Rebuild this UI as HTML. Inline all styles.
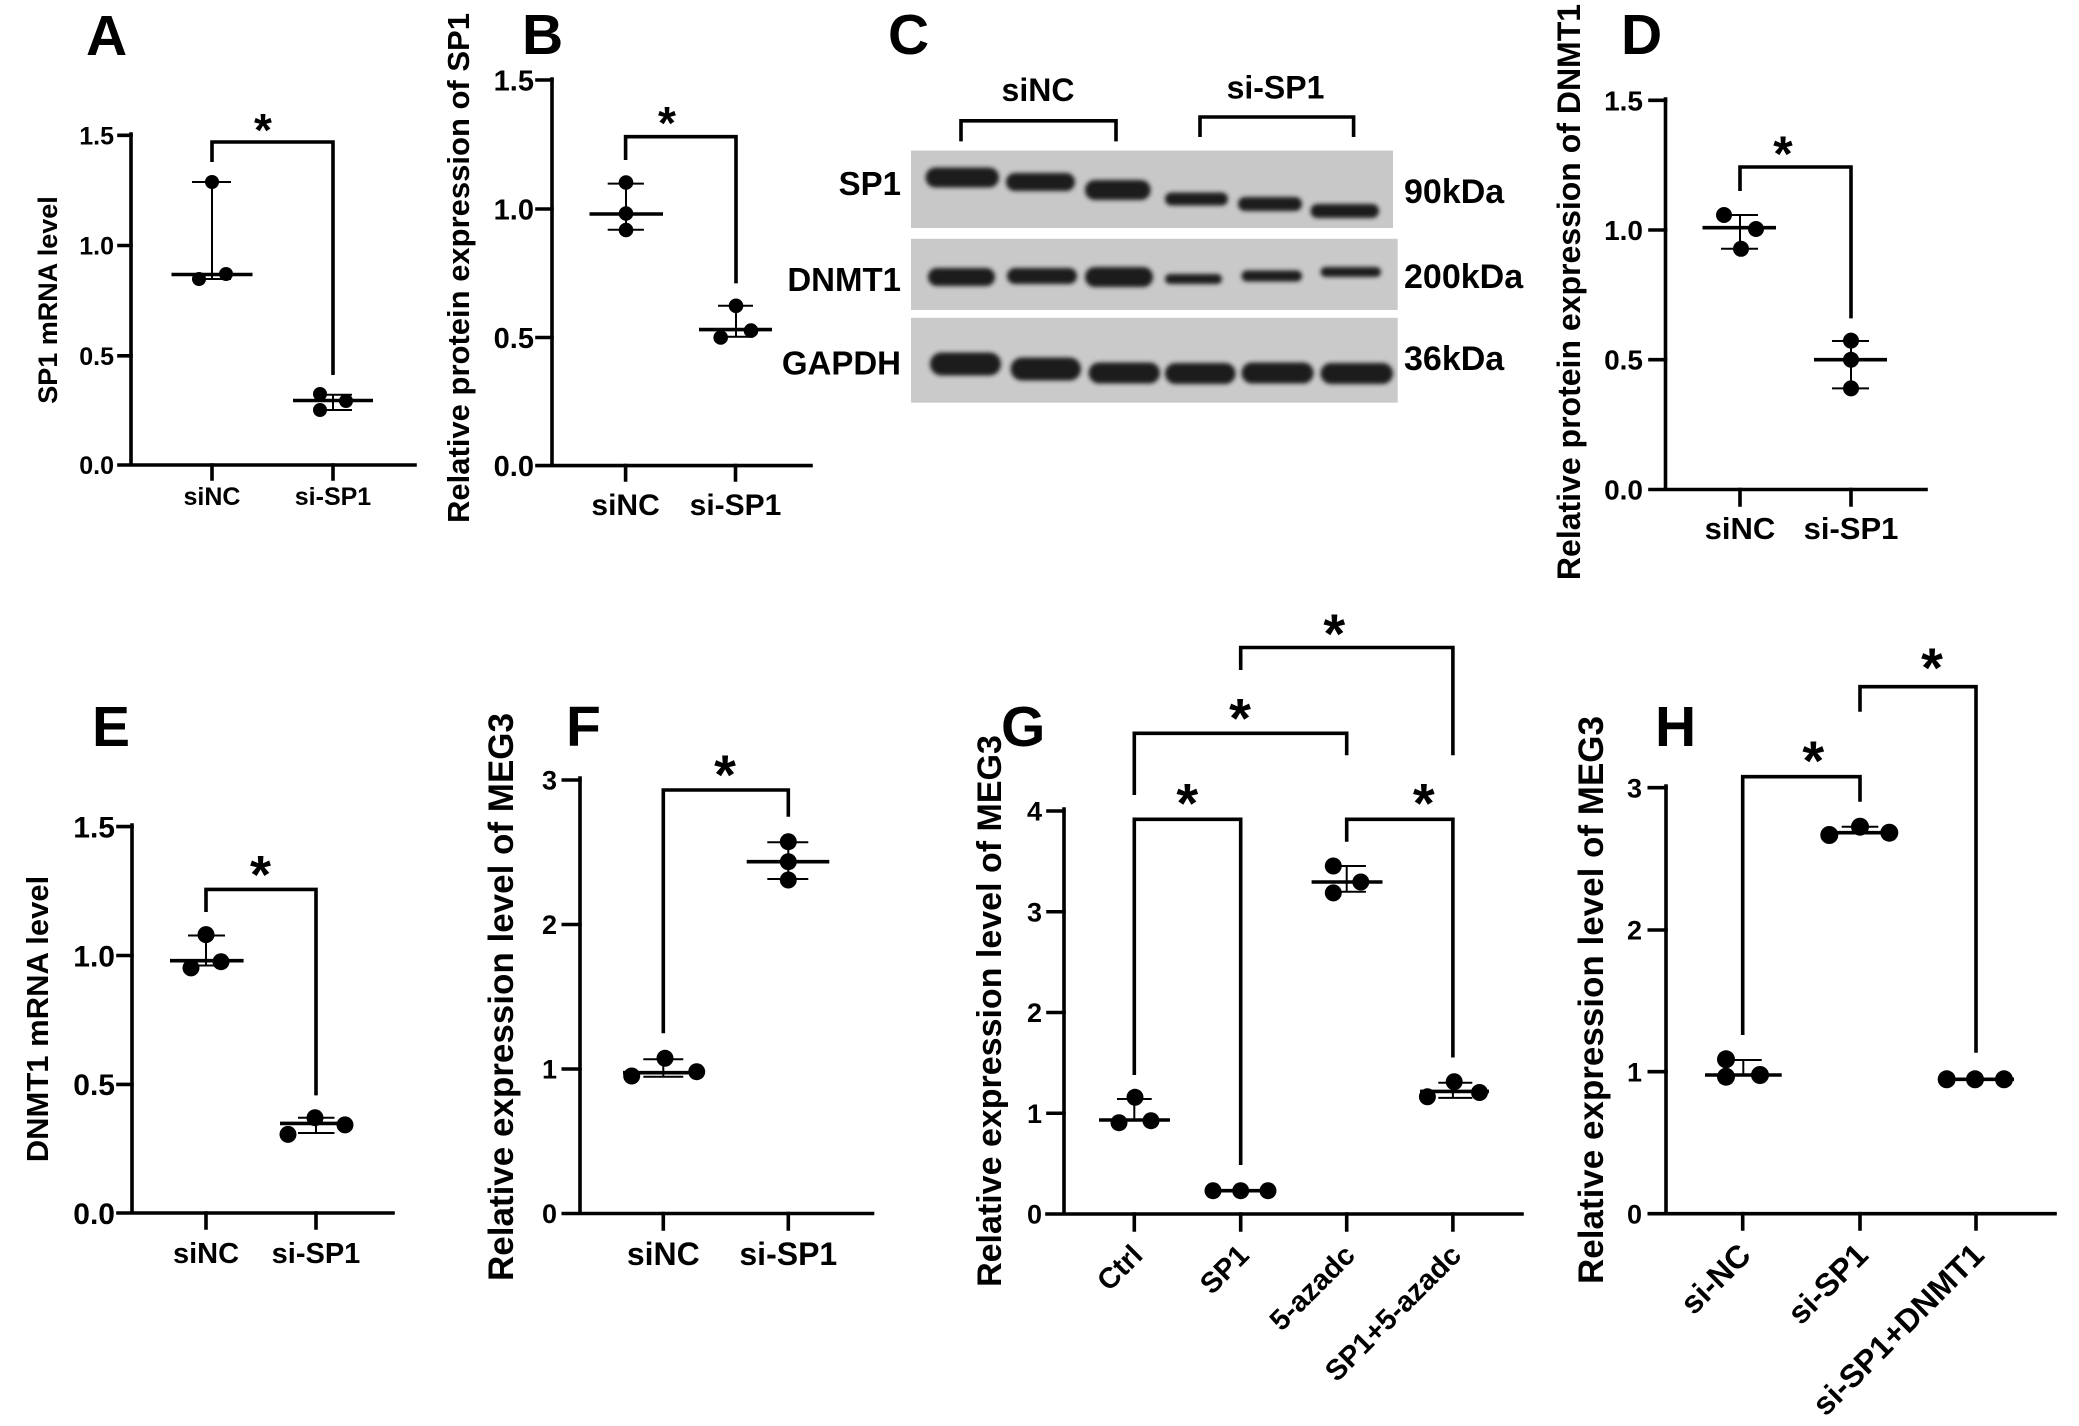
<!DOCTYPE html>
<html><head><meta charset="utf-8"><style>
html,body{margin:0;padding:0;background:#fff;}
svg{display:block;}
text{font-family:"Liberation Sans",Arial,sans-serif;font-weight:bold;fill:#000;}
.ax{stroke:#000;stroke-width:3.6;fill:none;stroke-linecap:square;}
.br{stroke:#000;stroke-width:3.6;fill:none;}
.md{stroke:#000;stroke-width:3.6;}
.eb{stroke:#000;stroke-width:2;}
</style></head><body>
<svg width="2079" height="1426" viewBox="0 0 2079 1426" xmlns="http://www.w3.org/2000/svg">
<defs><filter id="bl" x="-20%" y="-60%" width="140%" height="220%"><feGaussianBlur stdDeviation="2.2"/></filter></defs>
<rect width="2079" height="1426" fill="#fff"/>

<!-- Panel letters -->
<g font-size="57">
<text x="86" y="55">A</text>
<text x="522" y="54">B</text>
<text x="888" y="54">C</text>
<text x="1621" y="54">D</text>
<text x="92" y="746">E</text>
<text x="566" y="746">F</text>
<text x="1001" y="746">G</text>
<text x="1655" y="746">H</text>
</g>

<!-- ===== A ===== -->
<g>
<path class="ax" d="M131,134 V465 M119,465 H415"/>
<path class="ax" d="M119,135.3 H131 M119,245.5 H131 M119,355.8 H131 M212,465 V479 M333,465 V479"/>
<g font-size="25" text-anchor="end">
<text x="114" y="144.3">1.5</text><text x="114" y="254.5">1.0</text><text x="114" y="364.8">0.5</text><text x="114" y="474">0.0</text>
</g>
<g font-size="25" text-anchor="middle"><text x="212" y="505">siNC</text><text x="333" y="505">si-SP1</text></g>
<text font-size="27" text-anchor="middle" transform="rotate(-90 57 300)" x="57" y="300">SP1 mRNA level</text>
<path class="br" d="M212,162 V142 H333 V375"/>
<text font-size="46" text-anchor="middle" x="263" y="146">*</text>
<line class="eb" x1="212" y1="182" x2="212" y2="279"/>
<line class="eb" x1="192" y1="182" x2="231" y2="182"/><line class="eb" x1="192" y1="279" x2="231" y2="279"/>
<line class="md" x1="171.5" y1="274.5" x2="252.5" y2="274.5"/>
<circle cx="212" cy="182" r="7"/><circle cx="199" cy="279" r="7"/><circle cx="226" cy="274" r="7"/>
<line class="eb" x1="333" y1="394.7" x2="333" y2="410"/>
<line class="eb" x1="314" y1="394.7" x2="352" y2="394.7"/><line class="eb" x1="314" y1="410" x2="352" y2="410"/>
<line class="md" x1="293" y1="400.5" x2="373" y2="400.5"/>
<circle cx="320" cy="394" r="7"/><circle cx="320" cy="410" r="7"/><circle cx="346" cy="401" r="7"/>
</g>

<!-- ===== B ===== -->
<g>
<path class="ax" d="M552,79 V465.6 M537,465.6 H811"/>
<path class="ax" d="M537,80 H552 M537,209 H552 M537,337.5 H552 M625.6,465.6 V480 M735.5,465.6 V480"/>
<g font-size="29" text-anchor="end">
<text x="534" y="90.5">1.5</text><text x="534" y="219.5">1.0</text><text x="534" y="348">0.5</text><text x="534" y="476">0.0</text>
</g>
<g font-size="30" text-anchor="middle"><text x="625.6" y="515">siNC</text><text x="735.5" y="515">si-SP1</text></g>
<text font-size="31" text-anchor="middle" transform="rotate(-90 469 268)" x="469" y="268">Relative protein expression of SP1</text>
<path class="br" d="M625.6,160 V136.7 H736 V283.4"/>
<text font-size="46" text-anchor="middle" x="667" y="139">*</text>
<line class="eb" x1="626" y1="183.6" x2="626" y2="229.7"/>
<line class="eb" x1="607.7" y1="183.6" x2="643.9" y2="183.6"/><line class="eb" x1="607.7" y1="229.7" x2="643.9" y2="229.7"/>
<line class="md" x1="589.5" y1="214" x2="663" y2="214"/>
<circle cx="626" cy="182.5" r="7.3"/><circle cx="626" cy="213.5" r="7.3"/><circle cx="626" cy="230" r="7.3"/>
<line class="eb" x1="736" y1="305.8" x2="736" y2="336.8"/>
<line class="eb" x1="718" y1="305.8" x2="753" y2="305.8"/><line class="eb" x1="718" y1="336.8" x2="753" y2="336.8"/>
<line class="md" x1="699" y1="329.6" x2="772" y2="329.6"/>
<circle cx="736" cy="305.8" r="7.3"/><circle cx="720.7" cy="337.5" r="7.3"/><circle cx="751" cy="330.6" r="7.3"/>
</g>

<!-- ===== C (western blot) ===== -->
<g>
<g font-size="32" text-anchor="middle"><text x="1038" y="101">siNC</text><text x="1275.5" y="98.5">si-SP1</text></g>
<path class="br" stroke-width="4" d="M961,141.4 V120.8 H1116 V141.4"/>
<path class="br" stroke-width="4" d="M1200,137 V117 H1353.6 V137"/>
<rect x="911" y="150.6" width="482" height="77.4" fill="#c8c8c8"/>
<rect x="911" y="238.8" width="486.7" height="71.2" fill="#c9c9c9"/>
<rect x="911" y="317.8" width="486.7" height="84.9" fill="#cacaca"/>
<g fill="#1c1c1c" filter="url(#bl)">
<rect x="925.6" y="167.5" width="73.4" height="20" rx="10"/>
<rect x="1006" y="173" width="69" height="18" rx="9"/>
<rect x="1085" y="180" width="65.6" height="20" rx="10"/>
<rect x="1165" y="192.5" width="63" height="13" rx="6.5"/>
<rect x="1238" y="197" width="64" height="14" rx="7"/>
<rect x="1310.5" y="204" width="68.5" height="14" rx="7"/>
<rect x="928" y="268" width="67" height="18" rx="9"/>
<rect x="1007" y="268" width="70" height="16" rx="8"/>
<rect x="1085" y="267" width="68" height="20" rx="10"/>
<rect x="1165" y="274" width="57" height="10" rx="5"/>
<rect x="1241.5" y="270.5" width="60.5" height="11" rx="5.5"/>
<rect x="1320.5" y="267" width="60.5" height="10" rx="5"/>
<rect x="930" y="352.5" width="71" height="23" rx="11.5"/>
<rect x="1010.6" y="357.5" width="70.4" height="23" rx="11.5"/>
<rect x="1088.6" y="362.5" width="71.4" height="21" rx="10.5"/>
<rect x="1165" y="363" width="70.6" height="21" rx="10.5"/>
<rect x="1241.5" y="362.5" width="72.1" height="21" rx="10.5"/>
<rect x="1320.5" y="363" width="72.5" height="21" rx="10.5"/>
</g>
<g font-size="33" text-anchor="end"><text x="901" y="195">SP1</text><text x="901" y="291">DNMT1</text><text x="901" y="374.5">GAPDH</text></g>
<g font-size="34"><text x="1404" y="203">90kDa</text><text x="1404" y="288">200kDa</text><text x="1404" y="370">36kDa</text></g>
</g>

<!-- ===== D ===== -->
<g>
<path class="ax" d="M1665.5,99 V489.5 M1650,489.5 H1926"/>
<path class="ax" d="M1650,100.3 H1665.5 M1650,230 H1665.5 M1650,359.7 H1665.5 M1740,489.5 V505 M1851,489.5 V505"/>
<g font-size="28" text-anchor="end">
<text x="1643" y="110.3">1.5</text><text x="1643" y="240">1.0</text><text x="1643" y="369.7">0.5</text><text x="1643" y="499.5">0.0</text>
</g>
<g font-size="31" text-anchor="middle"><text x="1740" y="539">siNC</text><text x="1851" y="539">si-SP1</text></g>
<text font-size="32" text-anchor="middle" transform="rotate(-90 1580 292)" x="1580" y="292">Relative protein expression of DNMT1</text>
<path class="br" d="M1740,191 V167 H1851 V318.4"/>
<text font-size="50" text-anchor="middle" x="1783" y="171">*</text>
<line class="eb" x1="1740" y1="215" x2="1740" y2="248.8"/>
<line class="eb" x1="1721" y1="215" x2="1758" y2="215"/><line class="eb" x1="1721" y1="248.8" x2="1758" y2="248.8"/>
<line class="md" x1="1702.5" y1="227.7" x2="1776" y2="227.7"/>
<circle cx="1724" cy="215" r="8"/><circle cx="1756" cy="229" r="8"/><circle cx="1741" cy="248.8" r="8"/>
<line class="eb" x1="1851" y1="341" x2="1851" y2="388.4"/>
<line class="eb" x1="1832" y1="341" x2="1869" y2="341"/><line class="eb" x1="1832" y1="388.4" x2="1869" y2="388.4"/>
<line class="md" x1="1814" y1="359.7" x2="1887" y2="359.7"/>
<circle cx="1851" cy="340.6" r="8"/><circle cx="1851" cy="359.7" r="8"/><circle cx="1851" cy="388.4" r="8"/>
</g>

<!-- ===== E ===== -->
<g>
<path class="ax" d="M132,825 V1213 M118,1213 H393"/>
<path class="ax" d="M118,826.6 H132 M118,955.5 H132 M118,1084.4 H132 M206,1213 V1228 M316,1213 V1228"/>
<g font-size="30" text-anchor="end">
<text x="115" y="837.4">1.5</text><text x="115" y="966.3">1.0</text><text x="115" y="1095.2">0.5</text><text x="115" y="1224">0.0</text>
</g>
<g font-size="29" text-anchor="middle"><text x="206" y="1263">siNC</text><text x="316" y="1263">si-SP1</text></g>
<text font-size="31" text-anchor="middle" transform="rotate(-90 48 1019)" x="48" y="1019">DNMT1 mRNA level</text>
<path class="br" d="M206,912 V889.4 H316 V1095.4"/>
<text font-size="54" text-anchor="middle" x="260.5" y="893">*</text>
<line class="eb" x1="206" y1="935.5" x2="206" y2="965.5"/>
<line class="eb" x1="188" y1="935.5" x2="225" y2="935.5"/><line class="eb" x1="188" y1="965.5" x2="225" y2="965.5"/>
<line class="md" x1="170" y1="960.7" x2="243.6" y2="960.7"/>
<circle cx="206" cy="934.6" r="8.5"/><circle cx="191" cy="967.9" r="8.5"/><circle cx="221" cy="961.7" r="8.5"/>
<line class="eb" x1="316" y1="1117.7" x2="316" y2="1133"/>
<line class="eb" x1="298" y1="1117.7" x2="334.5" y2="1117.7"/><line class="eb" x1="298" y1="1133" x2="334.5" y2="1133"/>
<line class="md" x1="280" y1="1123.4" x2="352.6" y2="1123.4"/>
<circle cx="315" cy="1117.7" r="8.5"/><circle cx="288" cy="1134.4" r="8.5"/><circle cx="345" cy="1124.9" r="8.5"/>
</g>

<!-- ===== F ===== -->
<g>
<path class="ax" d="M580,778 V1213.5 M563.3,1213.5 H872.5"/>
<path class="ax" d="M563.3,780 H580 M563.3,924.5 H580 M563.3,1069 H580 M663.3,1213.5 V1229 M788.3,1213.5 V1229"/>
<g font-size="27" text-anchor="end">
<text x="557" y="789.7">3</text><text x="557" y="934.2">2</text><text x="557" y="1078.7">1</text><text x="557" y="1223.2">0</text>
</g>
<g font-size="32" text-anchor="middle"><text x="663.3" y="1265">siNC</text><text x="788.3" y="1265">si-SP1</text></g>
<text font-size="35" text-anchor="middle" transform="rotate(-90 513 997)" x="513" y="997">Relative expression level of MEG3</text>
<path class="br" d="M663.3,1033.3 V790 H788.3 V816.7"/>
<text font-size="56" text-anchor="middle" x="725" y="794">*</text>
<line class="eb" x1="663.3" y1="1059.3" x2="663.3" y2="1076.7"/>
<line class="eb" x1="643.3" y1="1059.3" x2="683.3" y2="1059.3"/><line class="eb" x1="643.3" y1="1076.7" x2="683.3" y2="1076.7"/>
<line class="md" x1="623" y1="1072.7" x2="703" y2="1072.7"/>
<circle cx="665" cy="1058.3" r="8.5"/><circle cx="631.7" cy="1076" r="8.5"/><circle cx="696.7" cy="1071.7" r="8.5"/>
<line class="eb" x1="788.3" y1="842.3" x2="788.3" y2="879"/>
<line class="eb" x1="767.3" y1="842.3" x2="808.3" y2="842.3"/><line class="eb" x1="767.3" y1="879" x2="808.3" y2="879"/>
<line class="md" x1="746.7" y1="861.7" x2="829.3" y2="861.7"/>
<circle cx="788.3" cy="841.7" r="8.5"/><circle cx="788.3" cy="861.7" r="8.5"/><circle cx="788.3" cy="880" r="8.5"/>
</g>

<!-- ===== G ===== -->
<g>
<path class="ax" d="M1064,809 V1214 M1047,1214 H1522"/>
<path class="ax" d="M1048,811 H1064 M1048,911.75 H1064 M1048,1012.5 H1064 M1048,1113.25 H1064 M1134.3,1214 V1230 M1240.7,1214 V1230 M1346.7,1214 V1230 M1452.9,1214 V1230"/>
<g font-size="27" text-anchor="end">
<text x="1042" y="820.7">4</text><text x="1042" y="921.5">3</text><text x="1042" y="1022.2">2</text><text x="1042" y="1123">1</text><text x="1042" y="1223.7">0</text>
</g>
<g font-size="29" text-anchor="end">
<text transform="rotate(-45 1144.3 1257)" x="1144.3" y="1257">Ctrl</text>
<text transform="rotate(-45 1250.7 1257)" x="1250.7" y="1257">SP1</text>
<text transform="rotate(-45 1356.7 1257)" x="1356.7" y="1257">5-azadc</text>
<text transform="rotate(-45 1462.9 1257)" x="1462.9" y="1257">SP1+5-azadc</text>
</g>
<text font-size="34" text-anchor="middle" transform="rotate(-90 1001 1011)" x="1001" y="1011">Relative expression level of MEG3</text>
<path class="br" d="M1134.3,1075 V819.3 H1240.7 V1165"/>
<path class="br" d="M1134.3,795 V733.3 H1346.7 V755.3"/>
<path class="br" d="M1346.7,841.7 V819.3 H1452.9 V1057.5"/>
<path class="br" d="M1240.7,670 V647.5 H1452.9 V755.3"/>
<g font-size="56" text-anchor="middle">
<text x="1187.3" y="822.7">*</text><text x="1240" y="737.7">*</text><text x="1423.8" y="822.7">*</text><text x="1334.3" y="653">*</text>
</g>
<line class="eb" x1="1134.3" y1="1099" x2="1134.3" y2="1120"/>
<line class="eb" x1="1117" y1="1099" x2="1151.7" y2="1099"/>
<line class="md" x1="1099" y1="1120" x2="1170" y2="1120"/>
<circle cx="1135" cy="1097.3" r="8.5"/><circle cx="1119" cy="1122.7" r="8.5"/><circle cx="1151" cy="1120.7" r="8.5"/>
<line class="md" x1="1206.7" y1="1190.7" x2="1275" y2="1190.7"/>
<circle cx="1213" cy="1190.7" r="8.5"/><circle cx="1240.7" cy="1190.7" r="8.5"/><circle cx="1268" cy="1190.7" r="8.5"/>
<line class="eb" x1="1346.7" y1="866" x2="1346.7" y2="891.8"/>
<line class="eb" x1="1326" y1="866" x2="1365.9" y2="866"/><line class="eb" x1="1326" y1="891.8" x2="1365.9" y2="891.8"/>
<line class="md" x1="1311.6" y1="882" x2="1382.5" y2="882"/>
<circle cx="1333.3" cy="866" r="8.5"/><circle cx="1333.3" cy="892.9" r="8.5"/><circle cx="1360.8" cy="882" r="8.5"/>
<line class="eb" x1="1452.9" y1="1082.8" x2="1452.9" y2="1097.9"/>
<line class="eb" x1="1438.3" y1="1082.8" x2="1472.3" y2="1082.8"/><line class="eb" x1="1438.3" y1="1097.9" x2="1472.3" y2="1097.9"/>
<line class="md" x1="1420" y1="1091.4" x2="1489" y2="1091.4"/>
<circle cx="1454.2" cy="1081.7" r="8.5"/><circle cx="1427.4" cy="1096.8" r="8.5"/><circle cx="1479.5" cy="1092.5" r="8.5"/>
</g>

<!-- ===== H ===== -->
<g>
<path class="ax" d="M1666,786 V1213.7 M1649.3,1213.7 H2055"/>
<path class="ax" d="M1649.3,787.7 H1666 M1649.3,930 H1666 M1649.3,1071.7 H1666 M1742.7,1213.7 V1229 M1860,1213.7 V1229 M1976,1213.7 V1229"/>
<g font-size="27" text-anchor="end">
<text x="1642" y="797.4">3</text><text x="1642" y="939.7">2</text><text x="1642" y="1081.4">1</text><text x="1642" y="1223.4">0</text>
</g>
<g font-size="32" text-anchor="end">
<text transform="rotate(-45 1752.7 1257)" x="1752.7" y="1257">si-NC</text>
<text transform="rotate(-45 1870 1257)" x="1870" y="1257">si-SP1</text>
<text transform="rotate(-45 1986 1257)" x="1986" y="1257">si-SP1+DNMT1</text>
</g>
<text font-size="35" text-anchor="middle" transform="rotate(-90 1603 1000)" x="1603" y="1000">Relative expression level of MEG3</text>
<path class="br" d="M1742.7,1035 V776.7 H1860 V801.7"/>
<path class="br" d="M1860,711.7 V686.7 H1976 V1052.7"/>
<g font-size="56" text-anchor="middle"><text x="1813.3" y="780">*</text><text x="1932" y="687">*</text></g>
<line class="eb" x1="1743.3" y1="1060" x2="1743.3" y2="1076"/>
<line class="eb" x1="1726" y1="1060" x2="1761.7" y2="1060"/>
<line class="md" x1="1705" y1="1075" x2="1781.7" y2="1075"/>
<circle cx="1726" cy="1059.3" r="9"/><circle cx="1726" cy="1076.7" r="9"/><circle cx="1760" cy="1075" r="9"/>
<line class="eb" x1="1841.7" y1="826.7" x2="1878.3" y2="826.7"/>
<line class="md" x1="1826.7" y1="832.7" x2="1893.3" y2="832.7"/>
<circle cx="1829.3" cy="835" r="9"/><circle cx="1860" cy="826.7" r="9"/><circle cx="1889.3" cy="832.7" r="9"/>
<line class="md" x1="1938" y1="1079.3" x2="2014" y2="1079.3"/>
<circle cx="1946.7" cy="1079.3" r="9"/><circle cx="1975" cy="1079.3" r="9"/><circle cx="2004" cy="1079.3" r="9"/>
</g>
</svg>
</body></html>
